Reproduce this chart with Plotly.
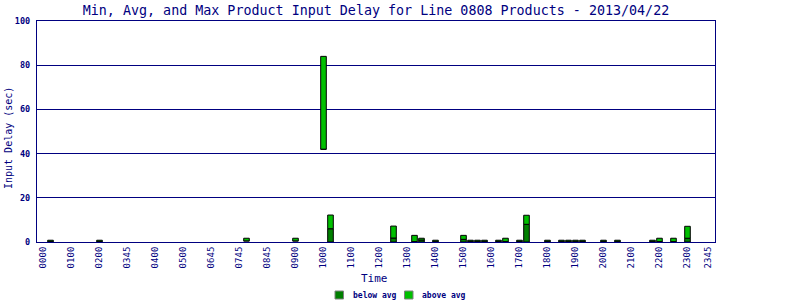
import plotly.graph_objects as go

# ---- data ----
times = ["0015", "0200", "0715", "0900", "1000", "1015", "1230", "1315", "1330",
         "1400", "1500", "1515", "1530", "1545", "1615", "1630", "1700", "1715",
         "1800", "1830", "1845", "1900", "1915", "2000", "2030", "2145", "2200",
         "2230", "2300"]
min_delay = [0, 0, 0.5, 0.5, 42, 0, 0, 0, 0,
             0, 0, 0, 0, 0, 0, 0, 0, 0,
             0, 0, 0, 0, 0, 0, 0, 0, 0,
             0, 0]
avg_delay = [0.3, 0.3, 0.5, 0.5, 42, 6, 1.8, 0.2, 0.9,
             0.3, 1.2, 0.3, 0.3, 0.3, 0.3, 0.2, 0.3, 8.0,
             0.3, 0.3, 0.3, 0.3, 0.3, 0.3, 0.3, 0.3, 0.2,
             0.2, 1.7]
max_delay = [0.8, 0.8, 1.7, 1.7, 84, 12.2, 7.2, 3.0, 1.7,
             0.8, 3.0, 0.8, 0.8, 0.8, 0.8, 1.7, 0.8, 12.1,
             0.8, 0.8, 0.8, 0.8, 0.8, 0.8, 0.8, 0.8, 1.7,
             1.7, 7.1]
tick_text = ["0000", "0100", "0200", "0345", "0400", "0500", "0645", "0745", "0845",
             "0900", "1000", "1100", "1200", "1300", "1400", "1500", "1600", "1700",
             "1800", "1900", "2000", "2100", "2200", "2300", "2345"]
tick_slots = [0, 4, 8, 12, 16, 20, 24, 28, 32, 36, 40, 44, 48, 52, 56, 60, 64, 68,
              72, 76, 80, 84, 88, 92, 95]
y_ticks = [0, 20, 40, 60, 80, 100]

NAVY = "#000080"
DARK = "#008000"
LIGHT = "#00c000"
MONO = "DejaVu Sans Mono"

slots = [int(t[:2]) * 4 + int(t[2:]) // 15 for t in times]
below = [a - m for a, m in zip(avg_delay, min_delay)]
above = [x - a for x, a in zip(max_delay, avg_delay)]

fig = go.Figure()
fig.add_trace(go.Bar(x=slots, y=below, base=min_delay, width=0.8, name="below avg",
                     marker=dict(color=DARK, line=dict(color="black", width=1)),
                     showlegend=False))
fig.add_trace(go.Bar(x=slots, y=above, base=avg_delay, width=0.8, name="above avg",
                     marker=dict(color=LIGHT, line=dict(color="black", width=1)),
                     showlegend=False))

L, R, T, B = 37, 85, 21, 58
W, H = 800, 300
pw, ph = W - L - R, H - T - B


def px(x):
    return (x - L) / pw


def py(y):
    return (H - B - y) / ph


fig.update_layout(
    width=W, height=H, barmode="overlay",
    margin=dict(l=L, r=R, t=T, b=B),
    paper_bgcolor="white", plot_bgcolor="white",
    title=dict(text="Min, Avg, and Max Product Input Delay for Line 0808 Products - 2013/04/22",
               x=0.5, xref="paper", xanchor="center", y=1 - 10 / H, yanchor="middle",
               font=dict(family=MONO, size=13.35, color=NAVY)),
    xaxis=dict(range=[-0.93, 95.93], tickvals=tick_slots, ticktext=tick_text,
               tickangle=-90, tickfont=dict(family=MONO, size=9, color=NAVY),
               showgrid=False, showline=True, linecolor=NAVY, linewidth=1.2, mirror=True,
               zeroline=False, ticks=""),
    yaxis=dict(range=[0, 100], tickvals=y_ticks,
               tickfont=dict(family=MONO, size=8.5, color=NAVY, weight="bold"),
               showgrid=True, gridcolor=NAVY, gridwidth=1,
               showline=True, linecolor=NAVY, linewidth=1.2, mirror=True,
               zeroline=False, ticks="", ticklabelstandoff=4),
    showlegend=False,
)

annotations = [
    dict(text="Time", x=px(374.5), y=py(278), xref="paper", yref="paper",
         showarrow=False, xanchor="center", yanchor="middle",
         font=dict(family=MONO, size=11, color=NAVY)),
    dict(text="Input Delay (sec)", x=px(8), y=py(138), xref="paper", yref="paper",
         showarrow=False, xanchor="center", yanchor="middle", textangle=-90,
         font=dict(family=MONO, size=10, color=NAVY)),
    dict(text="below avg", x=px(351), y=py(295), xref="paper", yref="paper",
         showarrow=False, xanchor="left", yanchor="middle",
         font=dict(family=MONO, size=8, color=NAVY, weight="bold")),
    dict(text="above avg", x=px(420), y=py(295), xref="paper", yref="paper",
         showarrow=False, xanchor="left", yanchor="middle",
         font=dict(family=MONO, size=8, color=NAVY, weight="bold")),
]
fig.update_layout(annotations=annotations)

shapes = [
    dict(type="rect", xref="paper", yref="paper", x0=px(335), x1=px(343.5),
         y0=py(299), y1=py(291), fillcolor=DARK, line=dict(color="#808080", width=1)),
    dict(type="rect", xref="paper", yref="paper", x0=px(404.5), x1=px(413),
         y0=py(299), y1=py(291), fillcolor=LIGHT, line=dict(color="#808080", width=1)),
]
fig.update_layout(shapes=shapes)

fig.write_html("out.html")
